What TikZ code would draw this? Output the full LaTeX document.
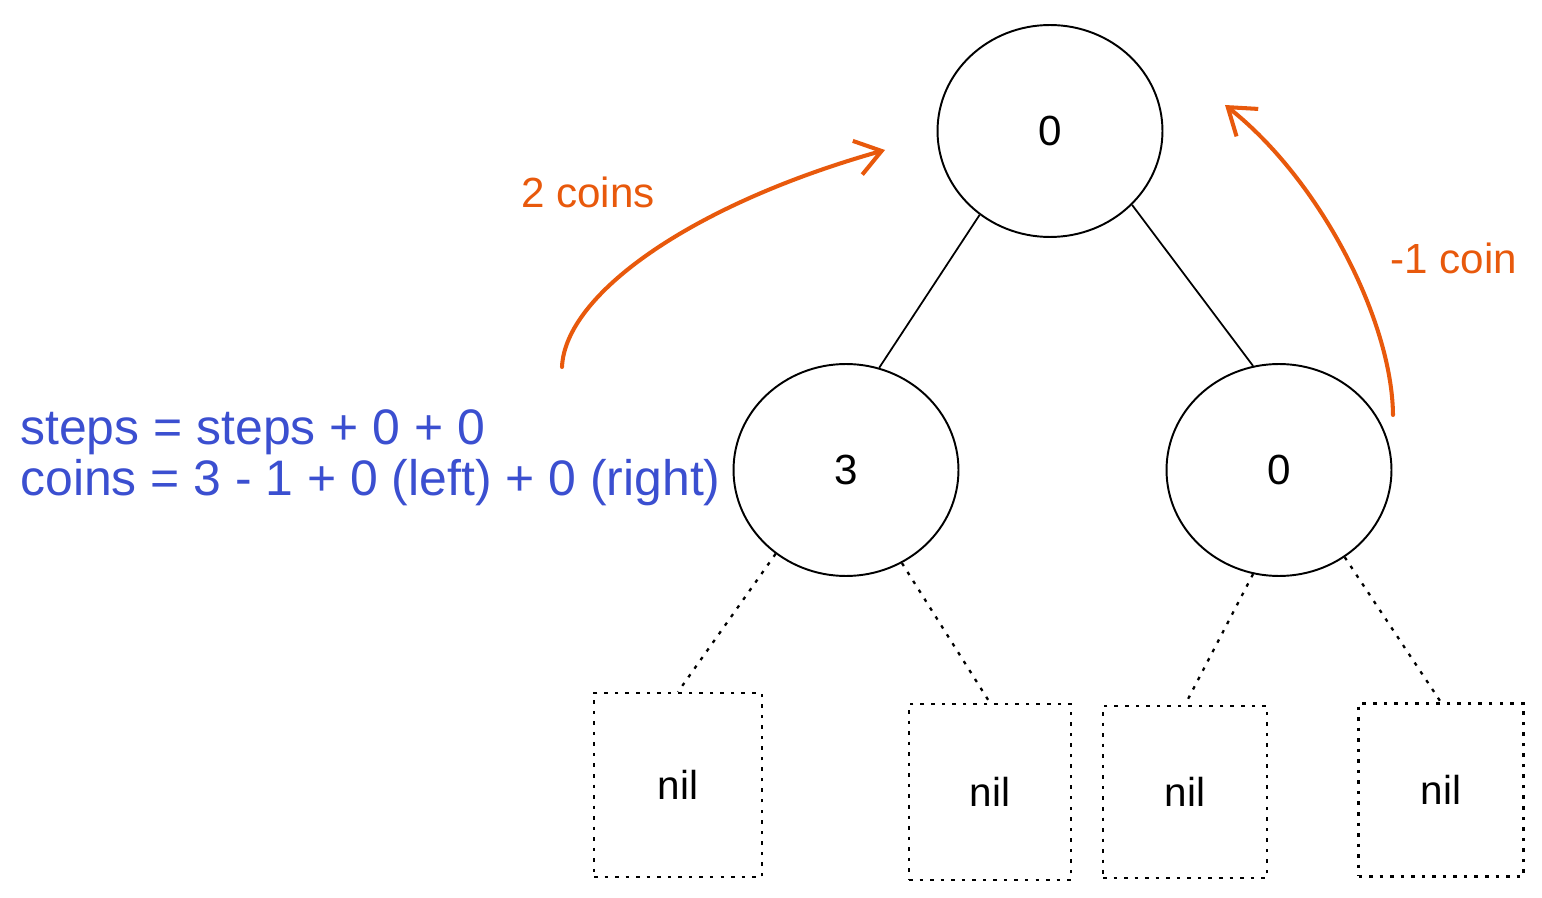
\documentclass[tikz,border=0pt]{standalone}
\usepackage{fontspec}
\setmainfont{Liberation Sans}
\usetikzlibrary{shapes.geometric,arrows.meta}
\definecolor{exorange}{HTML}{E8590C}
\definecolor{exblue}{HTML}{3B4FD0}
\tikzset{
  treenode/.style={draw=black,line width=1.1pt,ellipse,minimum width=4.5cm,minimum height=4.24cm,inner sep=0pt,font=\fontsize{24}{28}\selectfont},
  nilbox/.style={draw=black,line width=1.3pt,dash pattern=on 2pt off 4pt,rectangle,inner sep=0pt,font=\fontsize{23}{27}\selectfont},
  edge/.style={draw=black,line width=1pt},
  niledge/.style={draw=black,line width=1.3pt,dash pattern=on 2pt off 4pt},
  coinarrow/.style={draw=exorange,line width=2.3pt,line cap=round,-{Straight Barb[length=5mm,width=7mm,line width=2.3pt]}},
  coinlabel/.style={text=exorange,font=\fontsize{24}{28}\selectfont,inner sep=0pt},
  bluetext/.style={text=exblue,font=\fontsize{28.4}{32}\selectfont,inner sep=0pt,anchor=base west}
}
\begin{document}
\begin{tikzpicture}[x=0.02cm,y=-0.02cm]
\useasboundingbox (0,0) rectangle (1542,898);
% tree nodes
\node[treenode] (top) at (1050,131) {0};
\node[treenode] (left) at (846,470) {3};
\node[treenode] (right) at (1279,470) {0};
% nil boxes
\node[nilbox,minimum width=3.36cm,minimum height=3.68cm] (nil1) at (678,785) {nil};
\node[nilbox,minimum width=3.24cm,minimum height=3.52cm] (nil2) at (990,792) {nil};
\node[nilbox,minimum width=3.28cm,minimum height=3.44cm] (nil3) at (1185,792) {nil};
\node[nilbox,minimum width=3.30cm,minimum height=3.46cm] (nil4) at (1441,790) {nil};
% edges
\draw[edge] (top.230) -- (left.72);
\draw[edge] (top.318) -- (right.104);
\draw[niledge] (left.230) -- (nil1.north);
\draw[niledge] (left.301) -- (nil2.north);
\draw[niledge] (right.256) -- (nil3.north);
\draw[niledge] (right.307) -- (nil4.north);
% coin arrows
\coordinate (a1s) at (562,367);
\coordinate (a1e) at (885,150);
\coordinate (a2s) at (1393,415);
\coordinate (a2e) at (1225,105);
\draw[coinarrow] (a1s) .. controls (565,295) and (690,205) .. (a1e);
\draw[coinarrow] (a2s) .. controls (1392,320) and (1320,180) .. (a2e);
\node[coinlabel] (lab1) at (588,192) {2 coins};
\node[coinlabel] (lab2) at (1454,258) {-1 coin};
% blue text
\node[bluetext] (steps) at (20,445) {steps = steps + 0 + 0};
\node[bluetext] (coins) at (20,496) {coins = 3 - 1 + 0 (left) + 0 (right)};
\end{tikzpicture}
\end{document}
